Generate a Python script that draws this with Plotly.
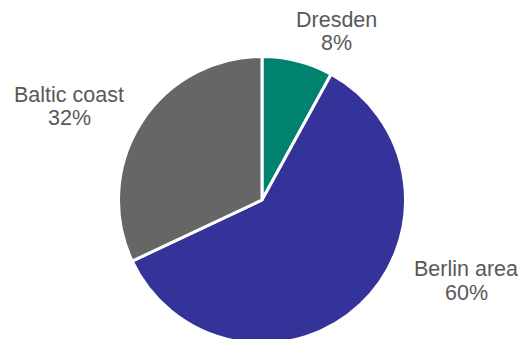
import plotly.graph_objects as go

labels = ["Dresden", "Berlin area", "Baltic coast"]
values = [8, 60, 32]
colors = ["#00826F", "#333399", "#666666"]

W, H = 520, 345
CX, CY, R = 262, 200, 143.5
# label centre positions in pixels (name line, percent line)
label_pos = {
    "Dresden": (336, 20, 43),
    "Berlin area": (466, 269, 293),
    "Baltic coast": (69, 95, 118),
}

fig = go.Figure(go.Pie(
    labels=labels, values=values, sort=False, direction="clockwise", rotation=0,
    marker=dict(colors=colors, line=dict(color="white", width=3)),
    textinfo="none", hoverinfo="label+percent", showlegend=False,
    domain=dict(x=[(CX - R) / W, (CX + R) / W], y=[(H - CY - R) / H, (H - CY + R) / H]),
))

total = sum(values)
font = dict(family="Arial, Liberation Sans, sans-serif", size=21.5, color="#595959")
for lab, val in zip(labels, values):
    x, y1, y2 = label_pos[lab]
    fig.add_annotation(text=lab, x=x / W, y=1 - y1 / H, xref="paper", yref="paper",
                       xanchor="center", yanchor="middle", showarrow=False, font=font)
    fig.add_annotation(text=f"{round(100 * val / total)}%", x=x / W, y=1 - y2 / H,
                       xref="paper", yref="paper", xanchor="center", yanchor="middle",
                       showarrow=False, font=font)

fig.update_layout(width=W, height=H, margin=dict(l=0, r=0, t=0, b=0),
                  paper_bgcolor="white", plot_bgcolor="white")
fig.write_html("out.html")
